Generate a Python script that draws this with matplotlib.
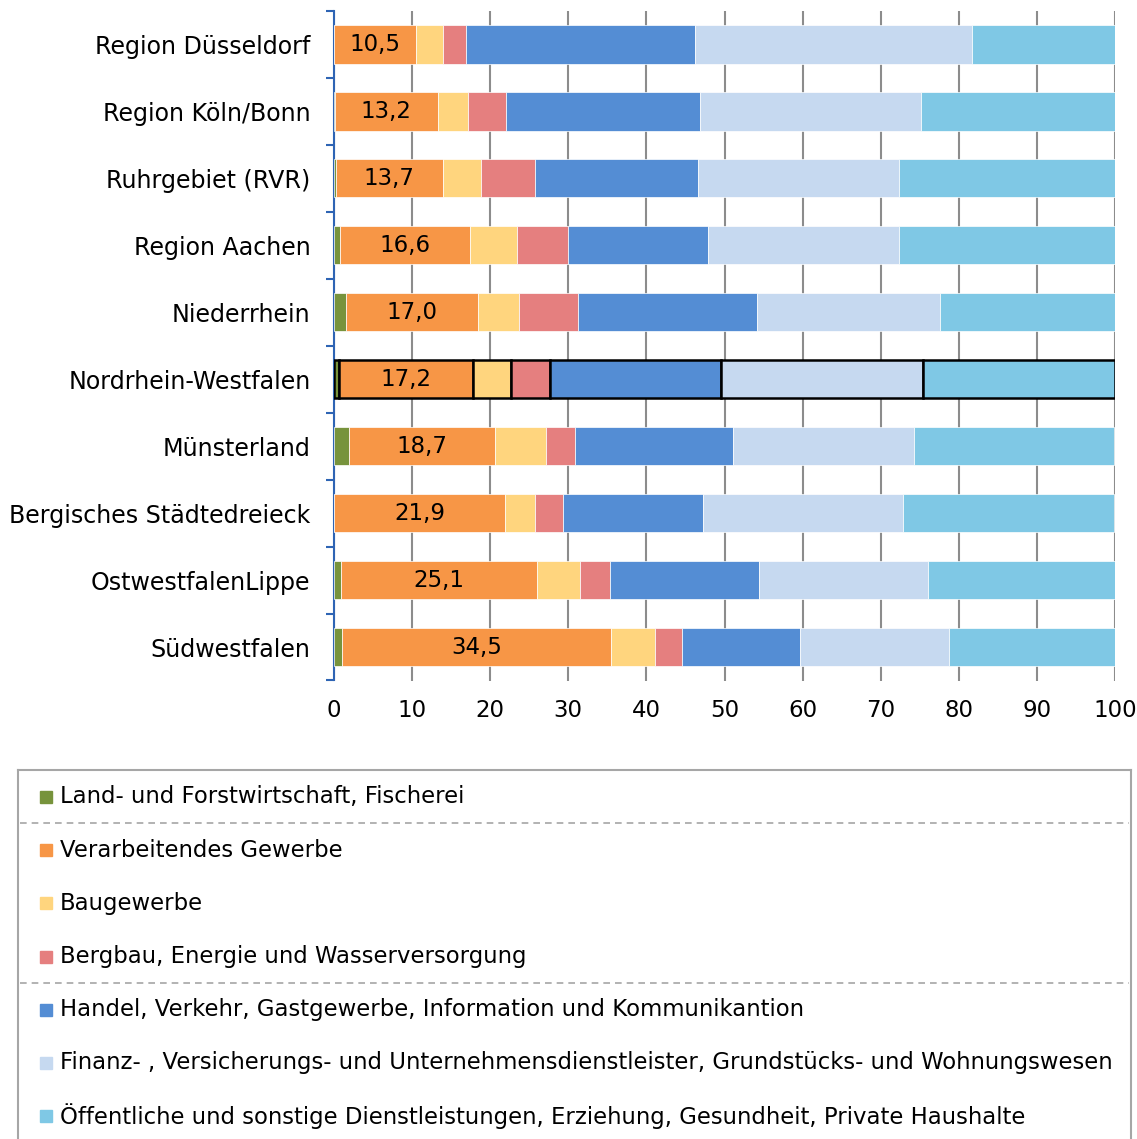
import matplotlib.pyplot as plt
import numpy as np
from matplotlib.patches import Rectangle

plt.rcParams['font.family'] = ['DejaVu Sans']

regions = ['Region Düsseldorf', 'Region Köln/Bonn', 'Ruhrgebiet (RVR)', 'Region Aachen',
           'Niederrhein', 'Nordrhein-Westfalen', 'Münsterland', 'Bergisches Städtedreieck',
           'OstwestfalenLippe', 'Südwestfalen']

sectors = ['Land- und Forstwirtschaft, Fischerei',
           'Verarbeitendes Gewerbe',
           'Baugewerbe',
           'Bergbau, Energie und Wasserversorgung',
           'Handel, Verkehr, Gastgewerbe, Information und Kommunikantion',
           'Finanz- , Versicherungs- und Unternehmensdienstleister, Grundstücks- und Wohnungswesen',
           'Öffentliche und sonstige Dienstleistungen, Erziehung, Gesundheit, Private Haushalte']

land = [0.0, 0.1, 0.2, 0.8, 1.5, 0.6, 1.9, 0.0, 0.9, 1.0]
verarb = [10.5, 13.2, 13.7, 16.6, 17.0, 17.2, 18.7, 21.9, 25.1, 34.5]
bau = [3.4, 3.8, 4.9, 6.0, 5.2, 4.8, 6.5, 3.9, 5.5, 5.6]
bergbau = [3.0, 4.9, 6.9, 6.6, 7.6, 5.1, 3.8, 3.5, 3.8, 3.5]
handel = [29.3, 24.9, 20.9, 17.9, 22.9, 21.9, 20.2, 18.0, 19.1, 15.1]
finanz = [35.5, 28.2, 25.7, 24.4, 23.4, 25.8, 23.2, 25.6, 21.7, 19.1]
oeffentl = [18.3, 24.9, 27.7, 27.7, 22.4, 24.6, 25.6, 27.0, 23.9, 21.2]

colors = ['#77933c', '#f79646', '#ffd57e', '#e57f7f', '#548dd4', '#c6d9f0', '#7fc8e5']

series = [land, verarb, bau, bergbau, handel, finanz, oeffentl]
highlight = 'Nordrhein-Westfalen'

W, H = 1137, 1139
fig = plt.figure(figsize=(W / 100, H / 100), dpi=100)
ax = fig.add_axes([334 / W, 1 - 680.5 / H, (1115 - 334) / W, (680.5 - 11) / H])

y = np.arange(len(regions))
left = np.zeros(len(regions))
for vals, col in zip(series, colors):
    vals = np.array(vals)
    edge = ['black' if r == highlight else 'white' for r in regions]
    lw = [1.8 if r == highlight else 0.5 for r in regions]
    ax.barh(y, vals, left=left, height=0.57, color=col, edgecolor=edge, linewidth=lw, zorder=3)
    left += vals

# value labels in the manufacturing segment
for i, v in enumerate(verarb):
    ax.text(land[i] + v / 2, i, f'{v:.1f}'.replace('.', ','), ha='center', va='center',
            fontsize=16.5, color='black', zorder=4)

ax.set_xlim(0, 100)
ax.set_ylim(len(regions) - 0.5, -0.5)
ax.set_xticks(np.arange(0, 101, 10))
ax.xaxis.grid(True, color='#8c8c8c', linewidth=1.5, zorder=0)
ax.set_axisbelow(True)
ax.tick_params(axis='x', length=0, labelsize=16.5, pad=13)

ax.set_yticks(y)
ax.set_yticklabels(regions, fontsize=17.1)
ax.tick_params(axis='y', which='major', length=0, pad=17)
ax.set_yticks(np.arange(-0.5, len(regions), 1), minor=True)
ax.tick_params(axis='y', which='minor', length=5.5, width=1.5, color='#2e64b4')

for s in ['top', 'right', 'bottom']:
    ax.spines[s].set_visible(False)
ax.spines['left'].set_color('#2e64b4')
ax.spines['left'].set_linewidth(1.5)

# legend box
lax = fig.add_axes([18 / W, 0, (1131 - 18) / W, (1139 - 770) / H])
lax.set_xlim(0, 1113)
lax.set_ylim(369, 0)
lax.set_xticks([])
lax.set_yticks([])
for s in ['left', 'right', 'top']:
    lax.spines[s].set_color('#a6a6a6')
    lax.spines[s].set_linewidth(1.5)
lax.spines['bottom'].set_visible(False)

row_y = 27 + 53.2 * np.arange(len(sectors))
for yy, lab, col in zip(row_y, sectors, colors):
    lax.add_patch(Rectangle((22, yy - 6), 12, 12, color=col))
    lax.text(42, yy, lab, va='center', ha='left', fontsize=16.4)
for yy in [53, 213]:
    lax.plot([2, 1111], [yy, yy], color='#a6a6a6', linewidth=1.2, linestyle=(0, (4, 3)))

fig.savefig('out.png', dpi=100)
